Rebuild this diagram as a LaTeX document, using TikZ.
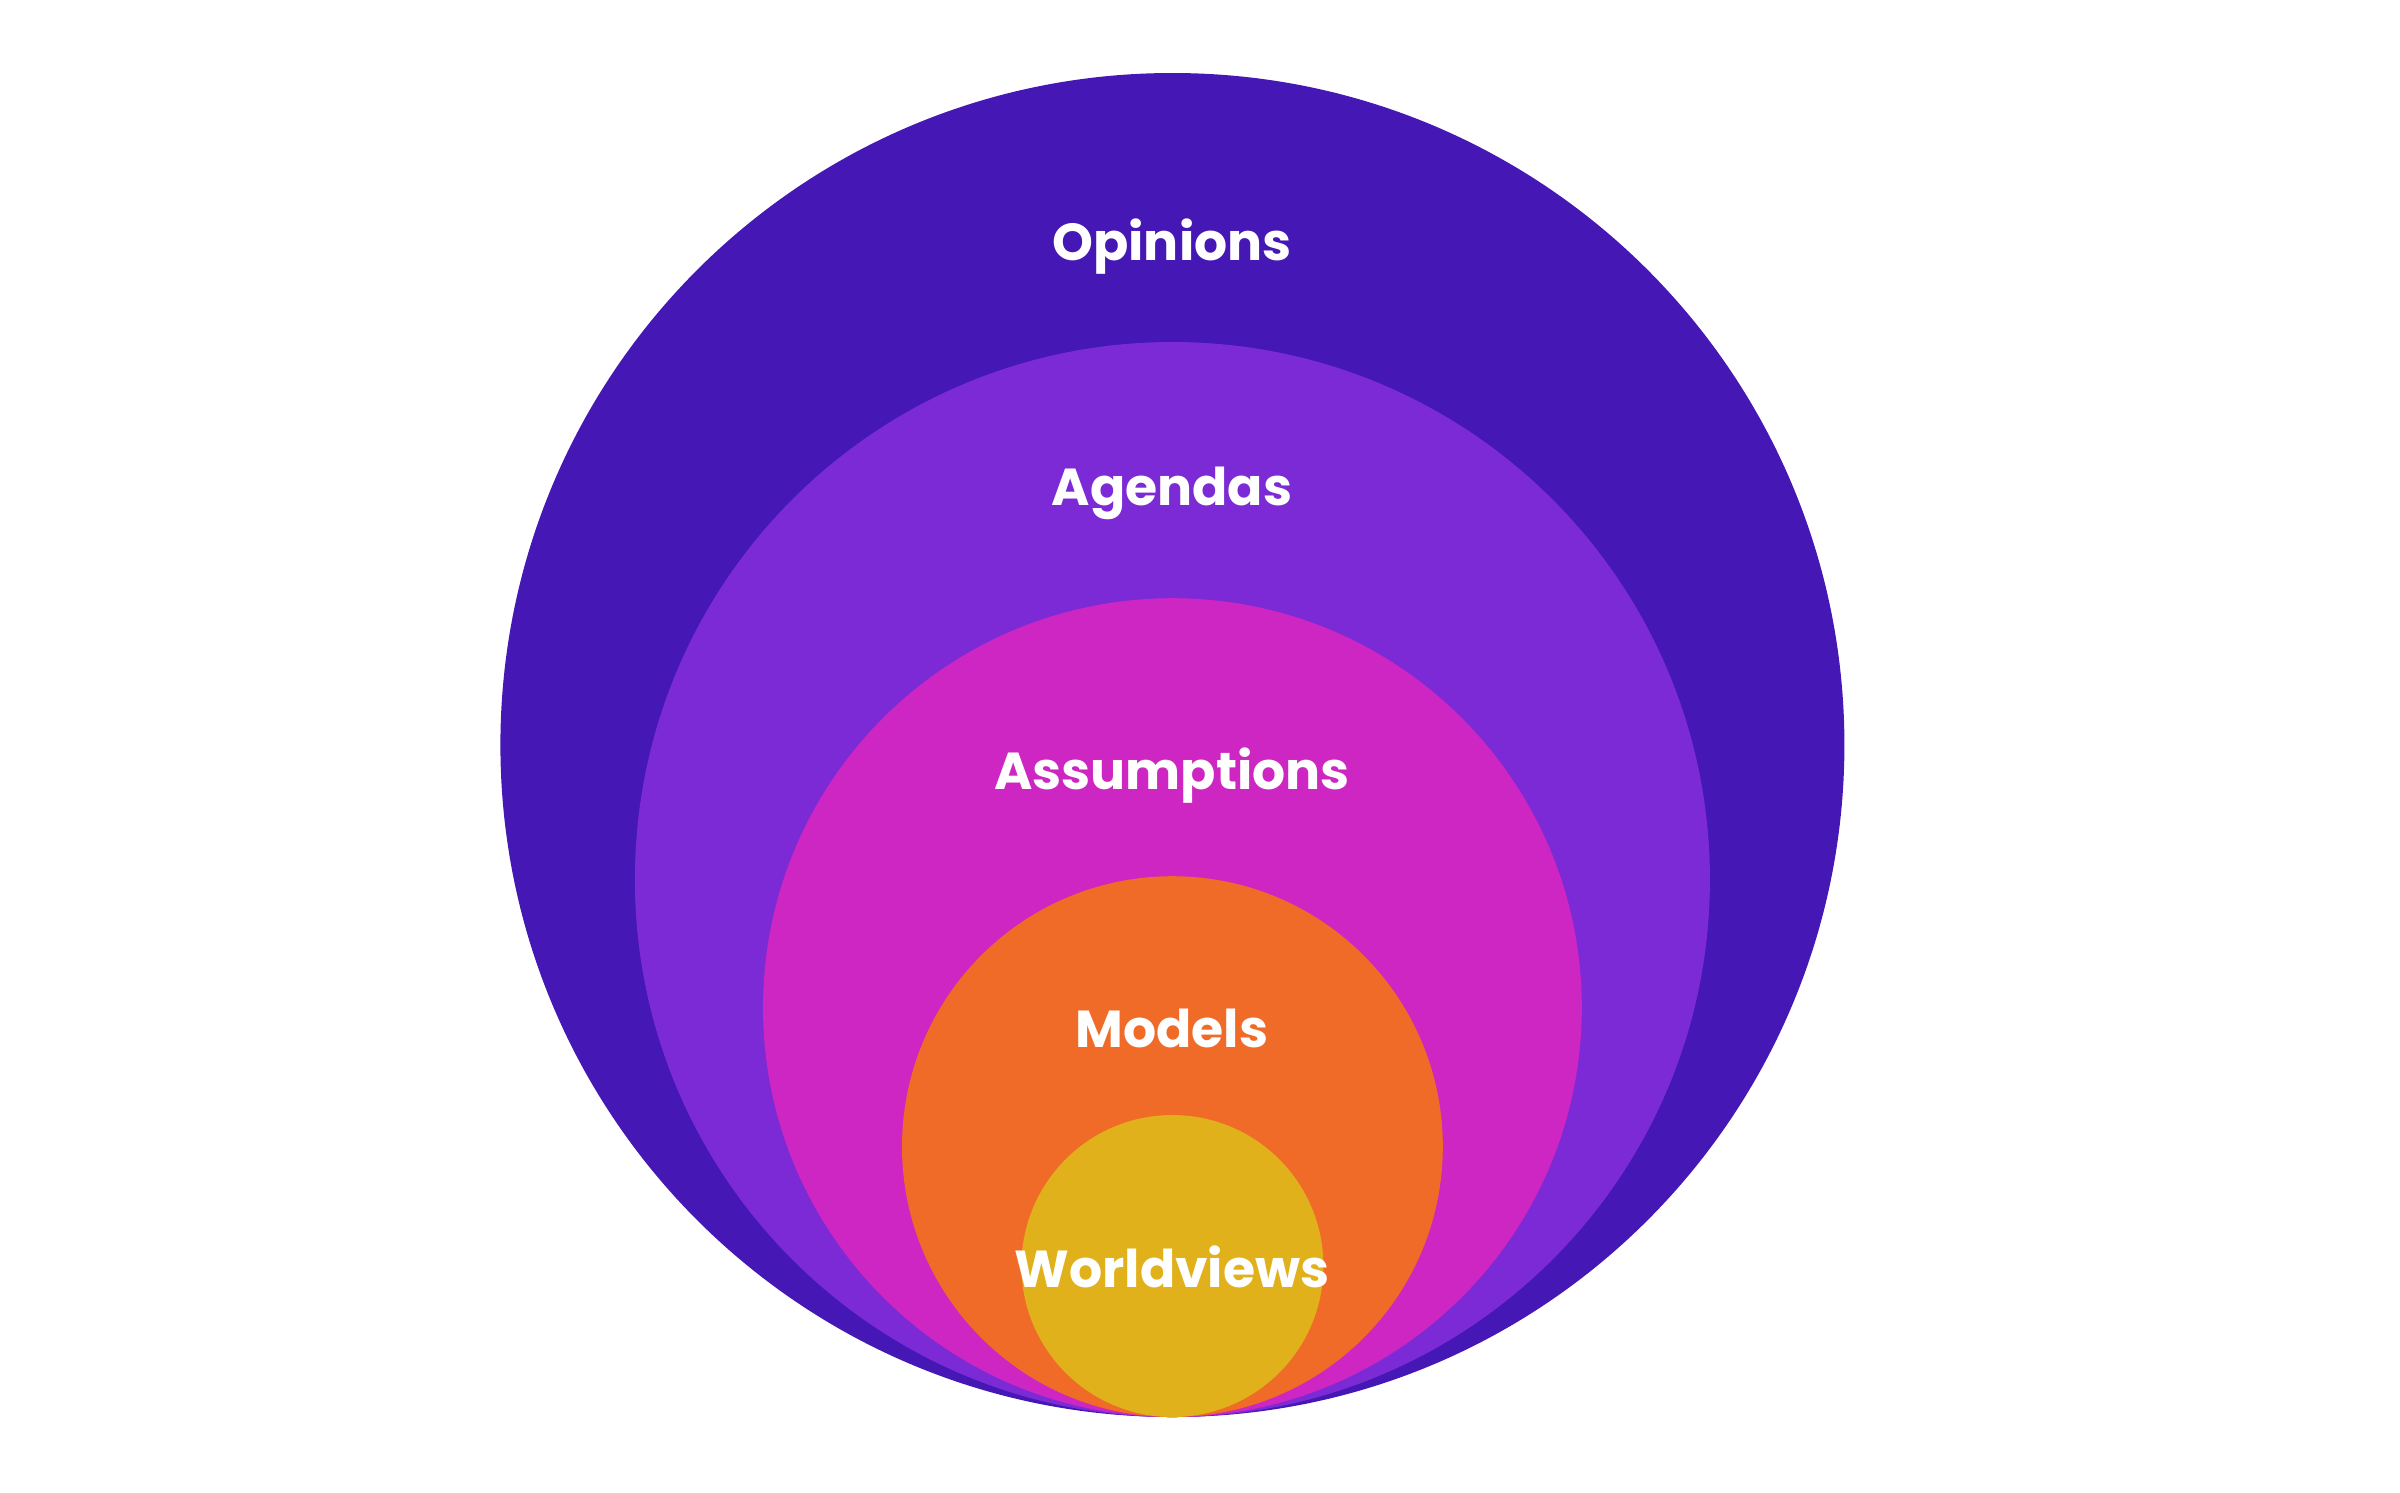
\documentclass[tikz,border=0pt]{standalone}
\usepackage{fontspec}
\setmainfont{Poppins}
\usetikzlibrary{calc}
\definecolor{cOpin}{HTML}{4517B5}
\definecolor{cAgen}{HTML}{7B2AD5}
\definecolor{cAssu}{HTML}{CD26C2}
\definecolor{cMode}{HTML}{EF6B27}
\definecolor{cWorl}{HTML}{E1B11B}
\begin{document}
\begin{tikzpicture}[x=1cm,y=1cm,
  lbl/.style={text=white, font=\fontsize{14.8}{17}\selectfont\bfseries, anchor=base, inner sep=0pt}]
\useasboundingbox (0,0) rectangle (24,-14.92);
\coordinate (T) at (11.724,-14.17);
\fill[cOpin] ($(T)+(0,6.72)$) circle (6.72);
\fill[cAgen] ($(T)+(0,5.375)$) circle (5.375);
\fill[cAssu] ($(T)+(0,4.094)$) circle (4.094);
\fill[cMode] ($(T)+(0,2.704)$) circle (2.704);
\fill[cWorl] ($(T)+(0,1.51)$) circle (1.51);
\node[lbl] (opin) at (11.72,-2.60) {Opinions};
\node[lbl] (agen) at (11.72,-5.05) {Agendas};
\node[lbl] (assu) at (11.72,-7.89) {Assumptions};
\node[lbl] (mode) at (11.72,-10.47) {Models};
\node[lbl] (worl) at (11.72,-12.87) {Worldviews};
\end{tikzpicture}
\end{document}
